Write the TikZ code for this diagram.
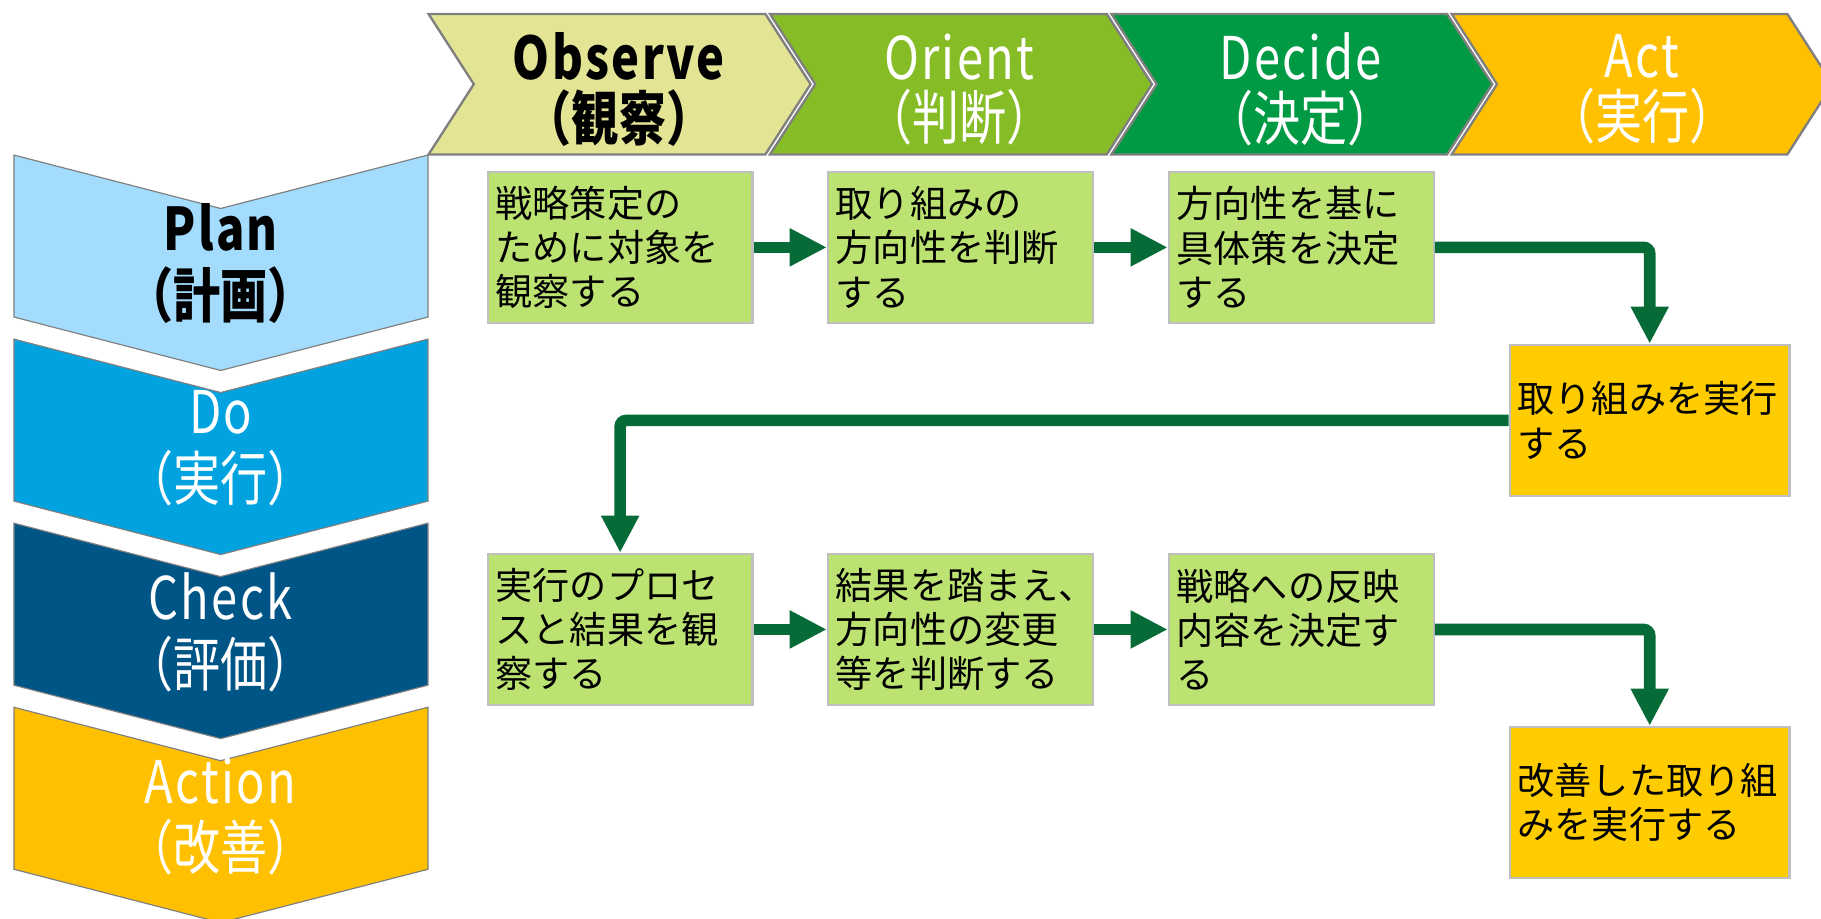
\documentclass[tikz,border=0pt]{standalone}
\usepackage{fontspec}
\setmainfont{Noto Sans CJK JP}
\newfontfamily\labfont[FakeStretch=0.8]{Noto Sans CJK JP}
\newfontfamily\latlabfont[FakeStretch=0.8, LetterSpace=4]{Noto Sans CJK JP}
\newcommand{\latword}[1]{{\latlabfont #1}}
\usetikzlibrary{arrows.meta}
\definecolor{obsC}{HTML}{E4E495}
\definecolor{oriC}{HTML}{86BC25}
\definecolor{decC}{HTML}{009A44}
\definecolor{actC}{HTML}{FFC000}
\definecolor{planC}{HTML}{A3DCFD}
\definecolor{doC}{HTML}{00A3E0}
\definecolor{chkC}{HTML}{005587}
\definecolor{actnC}{HTML}{FFC000}
\definecolor{gboxC}{HTML}{BCE272}
\definecolor{aboxC}{HTML}{FFCC00}
\definecolor{edgeC}{HTML}{7F7F7F}
\definecolor{boxedgeC}{HTML}{BFBFBF}
\definecolor{arrC}{HTML}{076B37}
\tikzset{
  hchev/.style={draw=edgeC, line width=1.5pt},
  vchev/.style={draw=edgeC, line width=0.75pt},
  toplab/.style={align=center, inner sep=0pt, text=white, font=\labfont\fontsize{38}{39}\selectfont},
  toplabbold/.style={align=center, inner sep=0pt, text=black, font=\labfont\bfseries\fontsize{38}{39}\selectfont},
  sidelab/.style={align=center, inner sep=0pt, text=white, font=\labfont\fontsize{38}{43}\selectfont},
  sidelabbold/.style={align=center, inner sep=0pt, text=black, font=\labfont\bfseries\fontsize{38}{43}\selectfont},
  stepbox/.style={draw=boxedgeC, line width=1.5pt, fill=gboxC, text width=161pt,
    inner xsep=5pt, inner ysep=0pt, minimum height=97.5pt, align=left,
    font=\fontsize{24}{28.5}\selectfont},
  actbox/.style={stepbox, fill=aboxC, text width=170.75pt},
  flow/.style={draw=arrC, line width=7.5pt, -{Triangle[length=24pt,width=23pt]}, rounded corners=4pt},
}
\begin{document}
\begin{tikzpicture}[x=0.75pt, y=-0.75pt]
\useasboundingbox (0,0) rectangle (1568,791);

% top OODA chevrons
\path[hchev, fill=obsC] (369,12) -- (659,12) -- (698,72.5) -- (659,133) -- (369,133) -- (408,72.5) -- cycle;
\path[hchev, fill=oriC] (663,12) -- (953,12) -- (992,72.5) -- (953,133) -- (663,133) -- (702,72.5) -- cycle;
\path[hchev, fill=decC] (957,12) -- (1246,12) -- (1285,72.5) -- (1246,133) -- (957,133) -- (996,72.5) -- cycle;
\path[hchev, fill=actC] (1250,12) -- (1539,12) -- (1578,72.5) -- (1539,133) -- (1250,133) -- (1289,72.5) -- cycle;
\node[toplabbold] (lobs) at (533,77) {\latword{Observe}\\（観察）};
\node[toplab] (lori) at (826,77) {\latword{Orient}\\（判断）};
\node[toplab] (ldec) at (1120,77) {\latword{Decide}\\（決定）};
\node[toplab] (lact) at (1414,77) {\latword{Act}\\（実行）};

% left PDCA chevrons
\foreach \t/\c in {133.5/planC, 292/doC, 450.5/chkC, 609/actnC}{
  \path[vchev, fill=\c] (12,\t) -- (190,\t+46) -- (368.5,\t) -- (368.5,\t+139.5)
     -- (190,\t+185.5) -- (12,\t+139.5) -- cycle;
}
\node[sidelabbold] (lplan) at (190,227) {\latword{Plan}\\（計画）};
\node[sidelab] (ldo) at (190,386) {\latword{Do}\\（実行）};
\node[sidelab] (lchk) at (190,544.5) {\latword{Check}\\（評価）};
\node[sidelab] (lactn) at (190,703) {\latword{Action}\\（改善）};

% step boxes
\node[stepbox] (b1) at (534,213) {戦略策定の\\ために対象を\\観察する};
\node[stepbox] (b2) at (827,213) {取り組みの\\方向性を判断\\する};
\node[stepbox] (b3) at (1120.5,213) {方向性を基に\\具体策を決定\\する};
\node[actbox] (a1) at (1420.5,362) {取り組みを実行\\する};
\node[stepbox] (c1) at (534,542) {実行のプロセ\\スと結果を観\\察する};
\node[stepbox] (c2) at (827,542) {結果を踏まえ、\\方向性の変更\\等を判断する};
\node[stepbox] (c3) at (1120.5,542) {戦略への反映\\内容を決定す\\る};
\node[actbox] (a2) at (1420.5,691) {改善した取り組\\みを実行する};

% connectors
\draw[flow] (b1.east) -- (b2.west);
\draw[flow] (b2.east) -- (b3.west);
\draw[flow] (b3.east) -| (a1.north);
\draw[flow] (a1.west) -| (c1.north);
\draw[flow] (c1.east) -- (c2.west);
\draw[flow] (c2.east) -- (c3.west);
\draw[flow] (c3.east) -| (a2.north);
\end{tikzpicture}
\end{document}
